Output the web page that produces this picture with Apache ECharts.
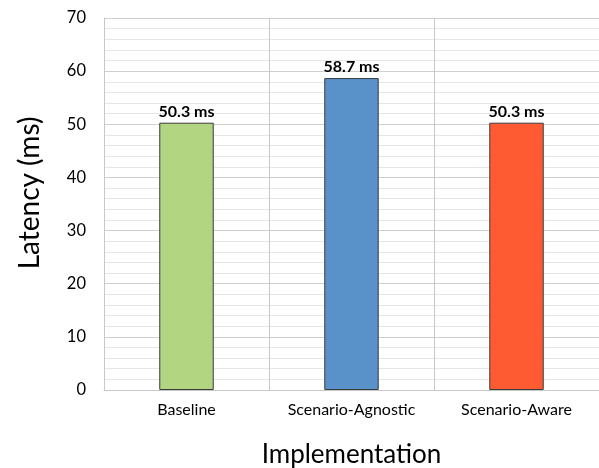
<!DOCTYPE html>
<html>
<head>
<meta charset="utf-8">
<script src="https://cdn.jsdelivr.net/npm/echarts@6/dist/echarts.min.js"></script>
<style>
html,body{margin:0;padding:0;background:#fff;}
#chart{width:599px;height:468px;}
</style>
</head>
<body>
<div id="chart"></div>
<script>
// Latency per implementation
const categories = ['Baseline', 'Scenario-Agnostic', 'Scenario-Aware'];
const latencyMs = [50.3, 58.7, 50.3];
const barColors = ['#b1d580', '#5892c8', '#ff5b33'];
const yTicks = [0, 10, 20, 30, 40, 50, 60, 70];

const FONT = 'Lato, "Open Sans", sans-serif';
const chart = echarts.init(document.getElementById('chart'), null, {renderer: 'canvas'});

chart.setOption({
  backgroundColor: '#ffffff',
  animation: false,
  grid: {left: 104, right: 0, top: 18, bottom: 78, containLabel: false, outerBoundsMode: 'none'},
  xAxis: {
    type: 'category',
    data: categories,
    name: 'Implementation',
    nameLocation: 'middle',
    nameGap: 52,
    nameTextStyle: {fontFamily: FONT, fontSize: 26, color: '#000'},
    axisLine: {show: true, lineStyle: {color: '#c8c8c8', width: 1}},
    axisTick: {show: false},
    axisLabel: {interval: 0, hideOverlap: false, fontFamily: FONT, fontSize: 16, color: '#000', margin: 12},
    splitLine: {show: true, interval: 0, lineStyle: {color: '#c8c8c8', width: 1}}
  },
  yAxis: {
    type: 'value',
    min: yTicks[0],
    max: yTicks[yTicks.length - 1],
    interval: 10,
    name: 'Latency (ms)',
    nameLocation: 'middle',
    nameGap: 60,
    nameRotate: 90,
    nameTextStyle: {fontFamily: FONT, fontSize: 28, color: '#000', padding: [0, 0, 0, 22]},
    axisLine: {show: true, lineStyle: {color: '#c8c8c8', width: 1}},
    axisTick: {show: false},
    axisLabel: {fontFamily: FONT, fontSize: 16.5, color: '#000', margin: 18},
    splitLine: {show: true, lineStyle: {color: '#cfcfcf', width: 1}},
    minorTick: {show: false, splitNumber: 5},
    minorSplitLine: {show: true, lineStyle: {color: '#e6e6e6', width: 1}}
  },
  series: [{
    type: 'bar',
    barWidth: '33%',
    data: latencyMs.map((v, i) => ({
      value: v,
      itemStyle: {color: barColors[i], borderColor: '#3a3a3a', borderWidth: 1}
    })),
    label: {
      show: true,
      position: 'top',
      distance: 3,
      formatter: p => p.value.toFixed(1) + ' ms',
      fontFamily: FONT,
      fontWeight: 'bold',
      fontSize: 16,
      color: '#000'
    }
  }]
});
</script>
</body>
</html>
